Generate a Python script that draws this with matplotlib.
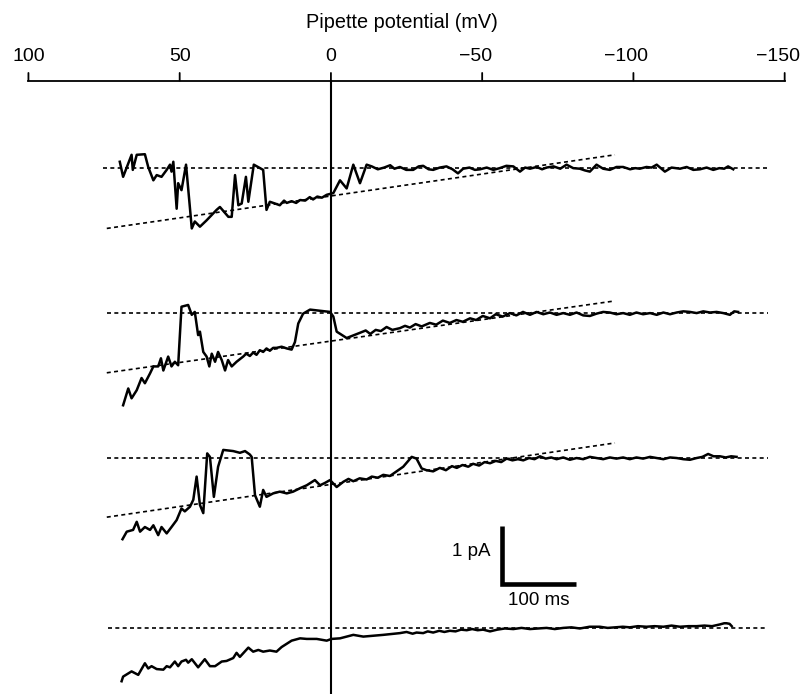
import matplotlib
matplotlib.use("Agg")
import matplotlib.pyplot as plt

plt.rcParams['font.family'] = ['Liberation Sans', 'DejaVu Sans']

# x ticks of the top axis (pipette potential, mV)
tick_mv = [100, 50, 0, -50, -100, -150]
tick_labels = ['100', '50', '0', '\u221250', '\u2212100', '\u2212150']

# trace 1 : mV and current (pA) relative to the dotted closed level
t1_mv = [69.8, 68.7, 65.9, 65.5, 64.2, 61.5, 60.4, 58.7, 57.6, 56.0,
         54.3, 53.2, 52.7, 52.1, 51.0, 50.5, 49.4, 47.9, 46.0, 45.0,
         43.3, 41.1, 37.8, 36.7, 33.9, 32.8, 31.7, 30.6, 29.5, 28.1,
         27.3, 25.5, 22.4, 21.3, 20.2, 18.5, 16.9, 15.5, 14.6, 13.0,
         11.5, 10.2, 8.5, 7.0, 5.9, 4.5, 3.0, 1.4,
         -0.8, -3.0, -5.2, -7.4, -9.6, -11.8,
         -13.5, -15.5, -17.6, -19.6, -21.0, -22.8, -24.9, -27.2, -29.0, -30.5,
         -32.3, -33.8, -36.0, -38.2, -40.2, -42.0, -43.7, -45.8, -47.6, -49.3,
         -51.5, -53.7, -55.8, -58.0, -60.3, -62.5, -64.2, -65.8, -68.0, -69.8,
         -71.3, -73.6, -75.8, -77.9, -80.1, -82.3, -84.0, -85.6, -87.8, -90.0,
         -92.2, -94.4, -96.6, -98.9, -100.6, -102.1, -104.3, -106.0, -107.7, -110.4,
         -112.6, -115.4, -117.6, -119.8, -122.0, -124.2, -126.4, -128.4, -130.0, -131.3,
         -133.0]
t1_pa = [0.11, -0.15, 0.23, -0.03, 0.23, 0.24, 0.02, -0.21, -0.12, -0.15,
         -0.03, 0.06, -0.06, 0.11, -0.70, -0.26, -0.38, 0.06, -1.04, -0.92,
         -1.01, -0.90, -0.72, -0.67, -0.84, -0.84, -0.12, -0.64, -0.61, -0.15,
         -0.58, 0.06, -0.03, -0.72, -0.58, -0.61, -0.64, -0.56, -0.60, -0.57,
         -0.60, -0.55, -0.56, -0.50, -0.54, -0.49, -0.51, -0.46,
         -0.43, -0.21, -0.35, 0.06, -0.26, 0.06,
         0.03, -0.02, 0.01, 0.05, -0.01, 0.02, -0.03, -0.03, 0.03, 0.04,
         -0.02, -0.03, 0.01, 0.03, -0.02, -0.09, -0.01, 0.01, -0.03, -0.02,
         0.01, -0.03, 0.00, 0.04, 0.03, -0.06, 0.01, -0.01, 0.02, -0.02,
         0.01, 0.03, -0.01, 0.06, 0.00, -0.01, -0.04, -0.06, 0.06, -0.01,
         -0.03, 0.02, 0.02, -0.02, 0.00, -0.01, 0.02, 0.01, 0.06, -0.06,
         0.01, -0.01, 0.02, -0.03, -0.02, 0.01, -0.03, 0.00, -0.01, 0.03,
         -0.02]

t2_mv = [68.7, 67.0, 65.9, 64.2, 62.6, 61.5, 59.8, 58.7, 57.1, 56.2,
         55.4, 53.8, 52.7, 51.6, 50.5, 49.4, 47.2, 46.0, 45.0, 43.9,
         43.3, 42.2, 41.1, 40.2, 39.4, 38.3, 37.3, 36.1, 35.0, 34.0,
         32.8, 31.2, 29.0, 28.0, 26.8, 25.7, 24.6, 23.5, 22.4, 21.3,
         20.2, 19.1, 18.0, 16.3, 14.6, 13.0,
         11.9, 10.8, 9.2, 6.9, 3.6, 0.3, -0.8, -1.9, -5.2, -9.6,
         -11.5, -13.0, -14.8, -16.5, -18.4, -20.3, -22.8, -24.5, -26.1, -28.0,
         -30.0, -32.7, -34.8, -37.0, -39.3, -41.5, -43.6, -46.0, -48.0, -50.2,
         -52.6, -54.5, -56.8, -59.2, -61.3, -63.5, -65.8, -68.0, -70.2, -72.4,
         -74.6, -76.8, -79.0, -81.2, -83.4, -85.6, -87.8, -90.0, -92.2, -94.4,
         -96.6, -98.8, -101.0, -103.2, -105.5, -107.7, -109.9, -112.1, -114.3, -116.5,
         -118.7, -120.9, -123.1, -125.3, -127.5, -129.7, -131.9, -133.3, -134.6]
t2_pa = [-1.59, -1.30, -1.47, -1.33, -1.12, -1.21, -1.04, -0.92, -0.92, -0.78,
         -0.99, -0.75, -0.92, -0.84, -0.90, 0.11, 0.14, -0.03, 0.02, -0.38,
         -0.32, -0.67, -0.75, -0.92, -0.70, -0.84, -0.67, -0.81, -0.99, -0.81,
         -0.92, -0.84, -0.75, -0.70, -0.74, -0.68, -0.72, -0.64, -0.67, -0.61,
         -0.65, -0.60, -0.60, -0.58, -0.61, -0.63,
         -0.50, -0.18, -0.01, 0.06, 0.04, 0.02, -0.06, -0.32, -0.43, -0.34,
         -0.30, -0.36, -0.29, -0.31, -0.24, -0.29, -0.26, -0.22, -0.25, -0.19,
         -0.23, -0.17, -0.20, -0.13, -0.17, -0.12, -0.15, -0.09, -0.12, -0.05,
         -0.09, -0.02, -0.06, 0.00, -0.04, 0.02, -0.03, 0.02, -0.02, 0.01,
         -0.03, 0.00, -0.03, 0.01, -0.04, -0.05, -0.01, 0.02, 0.01, -0.02,
         0.00, -0.03, 0.01, -0.02, 0.00, -0.03, 0.01, -0.02, 0.01, 0.03,
         0.02, 0.00, 0.03, 0.01, 0.02, 0.00, -0.03, 0.03, 0.02]

t3_mv = [68.9, 67.5, 65.4, 64.2, 63.1, 61.5, 59.8, 58.7, 57.1, 56.0,
         54.3, 52.7, 51.0, 49.4, 48.3, 46.6, 45.5, 44.4, 43.3, 42.2,
         40.9, 40.0, 38.7, 37.3, 35.6, 32.3, 30.1, 28.4, 26.8, 26.2,
         25.1, 23.5, 22.4, 21.3, 19.1, 16.9, 14.6, 12.5, 10.2, 8.0,
         5.3, 3.6, 2.0, 0.3, -1.9, -4.1, -5.8, -7.4, -9.5, -11.8,
         -13.5, -15.5, -17.3, -19.5,
         -21.7, -23.9, -26.7, -28.3, -30.0, -31.6,
         -33.8, -36.0, -38.0, -40.0, -41.6, -43.5, -45.4, -47.0, -49.0, -50.8,
         -52.6, -54.5, -56.3, -58.1, -60.0, -61.8, -63.6, -65.5, -67.3, -69.1,
         -71.0, -72.8, -74.6, -76.8, -79.0, -81.2, -83.4, -85.6, -87.8, -90.0,
         -92.2, -94.4, -96.6, -98.8, -101.0, -103.2, -105.5, -107.7, -109.9, -112.1,
         -114.3, -116.5, -118.7, -120.9, -122.8, -124.7, -126.5, -128.6, -130.5, -132.3,
         -134.1]
t3_pa = [-1.40, -1.27, -1.24, -1.10, -1.27, -1.19, -1.24, -1.16, -1.33, -1.19,
         -1.30, -1.19, -1.07, -0.87, -0.92, -0.84, -0.72, -0.32, -0.81, -0.95,
         0.08, 0.02, -0.67, -0.15, 0.14, 0.12, 0.09, 0.12, 0.06, 0.02,
         -0.64, -0.84, -0.55, -0.67, -0.61, -0.58, -0.61, -0.58, -0.52, -0.47,
         -0.38, -0.47, -0.43, -0.38, -0.50, -0.41, -0.36, -0.40, -0.35, -0.37,
         -0.32, -0.34, -0.29, -0.31,
         -0.23, -0.15, 0.02, -0.01, -0.18, -0.21,
         -0.23, -0.17, -0.21, -0.14, -0.17, -0.12, -0.15, -0.10, -0.13, -0.07,
         -0.09, -0.05, -0.07, -0.01, -0.04, -0.02, -0.04, 0.00, -0.02, 0.03,
         -0.01, 0.01, -0.02, 0.01, -0.03, 0.00, -0.02, 0.02, 0.00, -0.02,
         0.01, -0.01, 0.01, -0.02, 0.01, -0.01, 0.02, 0.00, -0.02, 0.01,
         0.00, -0.02, -0.03, 0.00, 0.02, 0.07, 0.03, 0.03, 0.01, 0.03,
         0.02]

t4_mv = [69.2, 68.7, 65.9, 63.7, 61.5, 60.4, 59.3, 57.6, 55.4, 54.3,
         53.2, 51.6, 50.5, 49.4, 47.9, 47.2, 46.0, 43.9, 41.7, 40.0,
         38.3, 36.1, 34.5, 32.3, 31.2, 30.1, 27.3, 25.7, 24.0, 22.4,
         20.2, 18.0, 16.3, 13.0, 10.2, 8.0, 4.7, 1.4, -0.2, -3.0,
         -7.4, -10.7, -17.3, -22.8,
         -25.0, -27.0, -28.3, -30.5, -32.0, -33.8, -35.8, -37.5, -39.3, -41.2,
         -43.0, -44.9, -46.7, -48.5, -50.3, -52.6, -55.0, -57.5, -60.3, -63.0,
         -65.8, -68.5, -71.3, -74.0, -76.8, -79.5, -82.3, -85.5, -88.9, -91.5,
         -94.0, -96.5, -98.8, -101.5, -104.3, -107.0, -109.9, -112.6, -115.4, -118.2,
         -120.9, -123.5, -126.0, -128.6, -130.0, -130.8, -131.8, -132.5]
t4_pa = [-0.92, -0.84, -0.75, -0.81, -0.61, -0.70, -0.66, -0.71, -0.72, -0.66,
         -0.68, -0.58, -0.66, -0.58, -0.55, -0.60, -0.54, -0.68, -0.54, -0.66,
         -0.66, -0.58, -0.57, -0.52, -0.43, -0.50, -0.34, -0.41, -0.38, -0.41,
         -0.39, -0.41, -0.33, -0.22, -0.18, -0.19, -0.19, -0.22, -0.19, -0.18,
         -0.12, -0.15, -0.12, -0.09,
         -0.07, -0.10, -0.08, -0.09, -0.06, -0.08, -0.05, -0.07, -0.05, -0.06,
         -0.03, -0.04, -0.02, -0.04, -0.03, -0.06, -0.03, -0.01, -0.02, 0.00,
         -0.02, -0.01, 0.00, -0.02, 0.00, 0.01, -0.01, 0.02, 0.02, 0.00,
         0.01, 0.02, 0.01, 0.03, 0.02, 0.03, 0.02, 0.04, 0.02, 0.03,
         0.03, 0.04, 0.03, 0.06, 0.08, 0.08, 0.07, 0.03]

# dotted closed level extent (mV) for each trace
closed_start = [75.5, 74.0, 74.0, 73.7]
closed_end = [-144.5, -144.5, -144.5, -144.5]

# leak lines: (mV, pA) at both ends, trace 4 has none
leak_mv = [(74.1, -93.9), (74.1, -93.9), (74.1, -93.9)]
leak_pa = [(-1.04, 0.23), (-1.03, 0.21), (-1.02, 0.26)]

# scale bar
bar_pa = 1.0
bar_ms = 100
ramp_mv_per_ms = 0.245

# ---- layout (vertical position of each trace, pA units, 0 = top of figure)
offsets = [-2.90, -5.40, -7.90, -10.83]
axis_y = -1.39

traces = [(t1_mv, t1_pa), (t2_mv, t2_pa), (t3_mv, t3_pa), (t4_mv, t4_pa)]

fig = plt.figure(figsize=(8.01, 6.94), dpi=100)
ax = fig.add_axes([0, 0, 1, 1])
ax.set_xlim(109.4, -155.4)
ax.set_ylim(-11.97, 0)
ax.axis('off')

dash = (0, (2.4, 2.0))
for i, (mv, pa) in enumerate(traces):
    off = offsets[i]
    ax.plot([closed_start[i], closed_end[i]], [off, off], color='black',
            lw=1.2, linestyle=dash)
    if i < len(leak_mv):
        ax.plot(leak_mv[i], [off + v for v in leak_pa[i]], color='black',
                lw=1.2, linestyle=dash)
    ax.plot(mv, [off + v for v in pa], color='black', lw=1.8,
            solid_joinstyle='round')

# zero potential line
ax.plot([0, 0], [axis_y, -11.97], color='black', lw=1.5)

# top axis drawn by hand: line, ticks pointing up, labels above
ax.plot([tick_mv[0], tick_mv[-1]], [axis_y, axis_y], color='black', lw=1.3)
for t, lab in zip(tick_mv, tick_labels):
    ax.annotate('', xy=(t, axis_y), xytext=(0, 5.5), textcoords='offset points',
                arrowprops=dict(arrowstyle='-', lw=1.3, color='black',
                                shrinkA=0, shrinkB=0))
    dx = -5 if lab.startswith('\u2212') else 0
    ax.annotate(lab, xy=(t, axis_y), xytext=(dx, 11), textcoords='offset points',
                ha='center', va='bottom', fontsize=14)

fig.text(402 / 801, 1 - 22 / 694, 'Pipette potential (mV)', ha='center',
         va='center', fontsize=14.3)

# scale bar
bx, by = -56.4, -10.07
ax.plot([bx, bx, bx - bar_ms * ramp_mv_per_ms], [by + bar_pa, by, by],
        color='black', lw=3.3, solid_joinstyle='miter', solid_capstyle='butt')
ax.text(bx + 3.5, by + bar_pa * 0.55, '1 pA', ha='right', va='center',
        fontsize=13.5)
ax.text(bx - bar_ms * ramp_mv_per_ms / 2, by - 0.28, '100 ms', ha='center',
        va='center', fontsize=13.5)

fig.savefig('out.png', dpi=100)
